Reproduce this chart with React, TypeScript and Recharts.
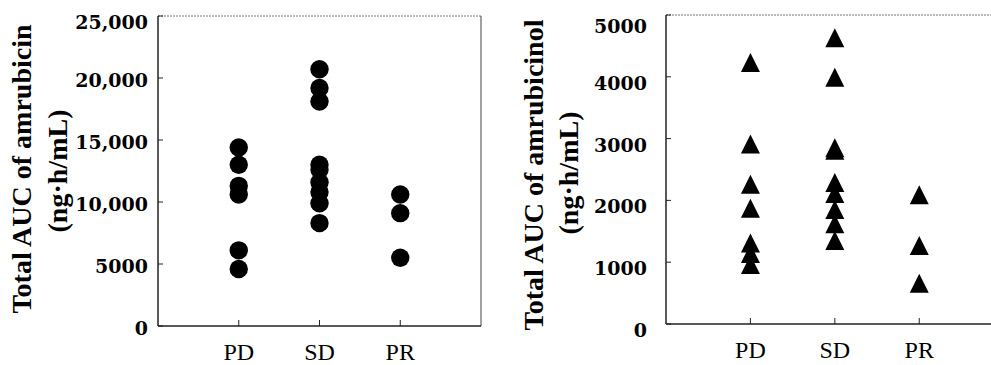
import { ReferenceLine, Scatter, ScatterChart, XAxis, YAxis } from "recharts";

// response groups on the x axis
const CATEGORIES = ["PD", "SD", "PR"];

// total AUC of amrubicin (ng·h/mL)
const AMR_PD = [14400, 13000, 11300, 10600, 6100, 4600];
const AMR_SD = [20700, 19200, 18100, 13000, 12600, 11600, 10800, 9900, 8300];
const AMR_PR = [10600, 9100, 5500];
const AMR_TICKS = [0, 5000, 10000, 15000, 20000, 25000];

// total AUC of amrubicinol (ng·h/mL)
const AMROL_PD = [4180, 2860, 2210, 1820, 1260, 1090, 910];
const AMROL_SD = [4580, 3940, 2800, 2760, 2240, 2060, 1800, 1570, 1300];
const AMROL_PR = [2040, 1220, 610];
const AMROL_TICKS = [0, 1000, 2000, 3000, 4000, 5000];

const toPoints = (groups: number[][]) =>
  groups.flatMap((vals, i) => vals.map((v) => ({ x: i + 1, y: v })));

const fmt = (v: number) => (v >= 10000 ? v.toLocaleString("en-US") : String(v));

const Dot = (props: any) => (
  <circle cx={props.cx} cy={props.cy} r={9.2} fill="#000" />
);

const Tri = (props: any) => {
  const { cx, cy } = props;
  const h = 19;
  const w = 19;
  return (
    <path
      d={`M${cx},${cy - (2 * h) / 3}L${cx + w / 2},${cy + h / 3}L${cx - w / 2},${cy + h / 3}Z`}
      fill="#000"
    />
  );
};

const YTick = ({ x, y, payload, dy, topValue }: any) => (
  <text
    x={x}
    y={y + 7 + dy + (payload.value === topValue ? 4.5 : 0)}
    textAnchor="end"
    fontFamily="DejaVu Serif"
    fontWeight="bold"
    fontSize={19}
    fill="#000"
  >
    {fmt(payload.value)}
  </text>
);

const XTick = ({ x, y, payload }: any) => (
  <text
    x={x}
    y={y + 34}
    textAnchor="middle"
    fontFamily="Liberation Serif"
    fontSize={24}
    fill="#000"
  >
    {CATEGORIES[payload.value - 1]}
  </text>
);

const AxisTitle = ({ lines, xs, ys }: { lines: string[]; xs: number[]; ys: number[] }) => (
  <g>
    {lines.map((t, i) => (
      <text
        key={t}
        transform={`translate(${xs[i]},${ys[i]}) rotate(-90)`}
        textAnchor="middle"
        dominantBaseline="central"
        fontFamily="Liberation Serif"
        fontWeight="bold"
        fontSize={28}
        fill="#000"
      >
        {t}
      </text>
    ))}
  </g>
);

const AXIS = { stroke: "#222", strokeWidth: 1.5 };

export default function App() {
  return (
    <div
      style={{
        position: "absolute",
        left: 0,
        top: 0,
        width: 991,
        height: 365,
        background: "#fff",
        display: "flex",
      }}
    >
      <ScatterChart
        width={495}
        height={365}
        margin={{ top: 16, right: 14, bottom: 0, left: 0 }}
      >
        <XAxis
          type="number"
          dataKey="x"
          domain={[0, 4]}
          ticks={[1, 2, 3]}
          interval={0}
          height={39}
          axisLine={AXIS}
          tickLine={{ stroke: "#222" }}
          tickSize={-6}
          tickMargin={6}
          tick={XTick}
        />
        <YAxis
          type="number"
          dataKey="y"
          domain={[0, 25000]}
          ticks={AMR_TICKS}
          interval={0}
          width={158}
          axisLine={AXIS}
          tickLine={{ stroke: "#222" }}
          tickSize={-5}
          tickMargin={15}
          tick={(p: any) => <YTick {...p} dy={1.5} topValue={25000} />}
          label={{
            content: () => (
              <AxisTitle
                lines={["Total AUC of amrubicin", "(ng·h/mL)"]}
                xs={[21, 57]}
                ys={[169, 171]}
              />
            ),
          }}
        />
        <ReferenceLine y={25000} stroke="#777" strokeDasharray="2 1" />
        <ReferenceLine x={4} stroke="#444" />
        <Scatter
          data={toPoints([AMR_PD, AMR_SD, AMR_PR])}
          shape={Dot}
          isAnimationActive={false}
        />
      </ScatterChart>
      <ScatterChart
        width={496}
        height={365}
        margin={{ top: 15, right: 0, bottom: 0, left: 0 }}
      >
        <XAxis
          type="number"
          dataKey="x"
          domain={[0, 3.85]}
          ticks={[1, 2, 3]}
          interval={0}
          height={41}
          axisLine={AXIS}
          tickLine={{ stroke: "#222" }}
          tickSize={-6}
          tickMargin={6}
          tick={XTick}
        />
        <YAxis
          type="number"
          dataKey="y"
          domain={[0, 5000]}
          ticks={AMROL_TICKS}
          interval={0}
          width={171}
          axisLine={AXIS}
          tickLine={{ stroke: "#222" }}
          tickSize={-5}
          tickMargin={24}
          tick={(p: any) => <YTick {...p} dy={6} topValue={5000} />}
          label={{
            content: () => (
              <AxisTitle
                lines={["Total AUC of amrubicinol", "(ng·h/mL)"]}
                xs={[38, 73]}
                ys={[175, 173]}
              />
            ),
          }}
        />
        <ReferenceLine y={5000} stroke="#777" strokeDasharray="2 1" />
        <Scatter
          data={toPoints([AMROL_PD, AMROL_SD, AMROL_PR])}
          shape={Tri}
          isAnimationActive={false}
        />
      </ScatterChart>
    </div>
  );
}
